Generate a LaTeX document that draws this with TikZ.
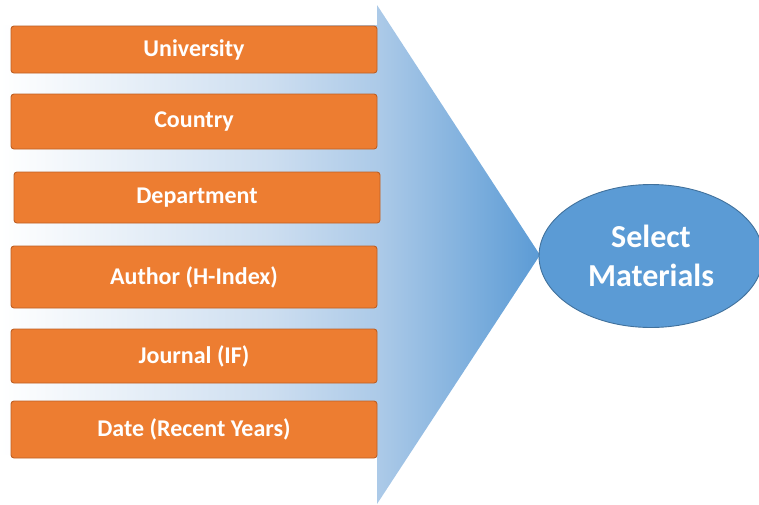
\documentclass[tikz,border=0pt]{standalone}
\usepackage{fontspec}
\setmainfont{Carlito}
\usetikzlibrary{shapes.geometric}
\definecolor{boxorange}{RGB}{237,125,49}
\definecolor{boxedge}{RGB}{190,95,35}
\definecolor{funnelblue}{RGB}{91,155,213}
\definecolor{funnelmid}{RGB}{205,222,240}
\definecolor{funnellight}{RGB}{172,202,232}
\definecolor{ovaledge}{RGB}{65,113,156}
\pgfdeclarehorizontalshading{funnelshade}{100bp}{color(0bp)=(white); color(25bp)=(white);
  color(50bp)=(funnelmid); color(60bp)=(funnellight); color(75bp)=(funnelblue); color(100bp)=(funnelblue)}
\tikzset{
  crit/.style={draw=boxedge, line width=0.9pt, fill=boxorange, rounded corners=3pt,
    minimum width=366pt, inner sep=0pt, text=white,
    font=\fontsize{24}{29}\selectfont\bfseries},
  goal/.style={ellipse, draw=ovaledge, line width=0.9pt, fill=funnelblue,
    minimum width=224pt, minimum height=143pt, inner sep=0pt, text=white,
    align=center, font=\fontsize{32}{39}\selectfont\bfseries}
}
\begin{document}
\begin{tikzpicture}[x=1pt,y=-1pt]
      \useasboundingbox (0,0) rectangle (759,504);
      \shade[shading=funnelshade]
        (0,25) -- (377,25) -- (377,5) -- (540,255) -- (377,504) -- (377,455) -- (0,455) -- cycle;
      \draw
        (194,49.5) node[crit, minimum height=47pt] (univ){University}
        (194,121.5) node[crit, minimum height=55pt] (country){Country}
        (197,197.5) node[crit, minimum height=51pt] (dept){Department}
        (194,277) node[crit, minimum height=62pt] (author){Author (H-Index)}
        (194,356) node[crit, minimum height=54pt] (journal){Journal (IF)}
        (194,429.5) node[crit, minimum height=57pt] (date){Date (Recent Years)};
      \node[goal] (select) at (651,256) {Select\\Materials};
    \end{tikzpicture}
\end{document}
